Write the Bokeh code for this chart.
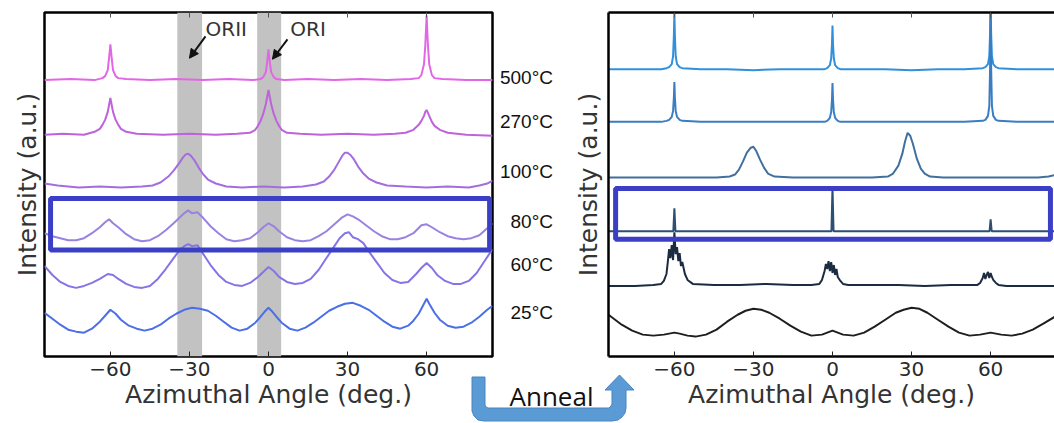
from bokeh.plotting import figure
from bokeh.models import (Range1d, LinearAxis, FixedTicker, BoxAnnotation, Label,
                          Arrow, NormalHead, GridBox, Div)
from bokeh.embed import file_html
from bokeh.resources import INLINE

# ---------------- data ----------------
ticks = [-60, -30, 0, 30, 60]
tick_labels = ["\u221260", "\u221230", "0", "30", "60"]
temps = ["500°C", "270°C", "100°C", "80°C", "60°C", "25°C"]

# Left panel (in situ), intensity in a.u. incl. stacking offset
T500_x = [-85, -75, -66, -63, -62, -61, -60.5, -60, -59.5, -59, -58, -57, -54, -45, -35, -25, -15, -6, -3, -2,
          -1, -0.5, 0, 0.5, 1, 2, 3, 6, 15, 25, 35, 45, 54, 57, 58, 59, 59.5, 60, 60.5, 61, 62, 63, 66, 75, 85]
T500_y = [278, 279, 278, 280, 282, 288, 300, 314, 300, 288, 282, 280, 279, 278, 279, 278, 279, 278, 279, 281,
          286, 296, 309, 296, 286, 281, 279, 278, 279, 278, 279, 278, 279, 280, 283, 294, 313, 343, 313, 294,
          283, 280, 279, 278, 278]

T270_x = [-85, -78, -70, -66, -64, -63, -62, -61, -60.5, -60, -59.5, -59, -58, -57, -56, -54, -50, -40, -30, -20,
          -12, -7, -5, -4, -3, -2, -1, -0.5, 0, 0.5, 1, 2, 3, 4, 5, 7, 12, 20, 30, 40,
          48, 52, 55, 57, 58, 59, 59.5, 60, 61, 62, 63, 65, 68, 75, 85]
T270_y = [223, 224, 223, 226, 229, 233, 238, 246, 253, 260, 253, 246, 238, 233, 229, 226, 224, 223, 224, 223,
          224, 225, 228, 232, 237, 244, 254, 261, 268, 261, 254, 244, 237, 232, 228, 225, 224, 223, 224, 223,
          224, 225, 228, 233, 237, 242, 246, 248, 242, 236, 232, 228, 225, 223, 222]

T100_x = [-85, -80, -72, -64, -56, -48, -44, -41, -38, -36, -34, -32.5, -31.5, -30.5, -29.5, -28, -26.5, -25, -23, -20,
          -16, -10, -2, 6, 13, 18, 21, 23, 25, 26.5, 28, 29, 30, 31, 32.5, 34, 36, 38, 41, 45,
          52, 60, 68, 76, 80, 83, 85]
T100_y = [174, 172, 170, 171, 170, 171, 172, 175, 181, 187, 194, 200, 203, 204, 202, 197, 190, 184, 178, 174,
          171, 170, 171, 170, 171, 173, 176, 181, 188, 195, 202, 205, 205, 203, 198, 191, 184, 179, 175, 172,
          171, 170, 171, 170, 172, 174, 177]

T80_x = [-85, -82, -79, -76, -73, -70, -67, -64, -62, -60.5, -59, -57, -54, -51, -48, -45, -42, -39, -36, -34,
         -32, -30.5, -29, -27, -25, -22, -19, -16, -13, -10, -7, -4, -2, 0, 2, 4, 7, 10, 13, 16,
         19, 22, 25, 28, 30, 32, 34, 37, 40, 43, 46, 49, 52, 55, 58, 60, 62, 65, 68, 71, 74, 77, 80, 83, 85]
T80_y = [124, 121, 119, 117, 117, 119, 124, 130, 135, 138, 134, 130, 123, 118, 116, 117, 121, 127, 134, 139,
         144, 147, 144, 145, 140, 131, 124, 118, 116, 117, 119, 125, 130, 134, 131, 126, 120, 117, 116, 117,
         121, 126, 133, 140, 143, 141, 138, 132, 126, 121, 118, 118, 120, 124, 132, 133, 130, 125, 121, 119,
         118, 119, 122, 129, 134]

T60_x = [-85, -82, -79, -76, -73, -70, -67, -64, -61, -59, -57, -54, -51, -48, -45, -42, -39, -36, -34, -32,
         -30.5, -29, -27, -25, -22, -19, -16, -13, -10, -7, -4, -2, 0, 2, 4, 7, 10, 13, 16, 19,
         22, 25, 27, 29, 30.5, 32, 34, 36, 38, 41, 44, 47, 50, 53, 56, 58, 60, 62, 64, 67,
         70, 73, 76, 79, 82, 85]
T60_y = [91, 82, 75, 71, 69, 71, 74, 78, 83, 82, 78, 73, 70, 69, 71, 78, 88, 99, 106, 111,
         113, 111, 112, 104, 92, 82, 75, 72, 71, 74, 80, 85, 90, 86, 80, 75, 73, 74, 78, 87,
         99, 111, 119, 124, 125, 120, 118, 114, 106, 95, 84, 77, 74, 75, 83, 89, 94, 89, 82, 76,
         73, 73, 76, 84, 96, 108]

T25_x = [-85, -82, -79, -76, -73, -70, -67, -64, -62, -60, -58, -56, -53, -50, -47, -44, -41, -38, -35, -32,
         -29, -26, -23, -20, -17, -14, -11, -8, -5, -3, -1.5, 0, 1.5, 3, 5, 8, 11, 14, 17, 20,
         23, 26, 29, 32, 35, 38, 41, 44, 47, 50, 53, 55, 57, 59, 60, 61, 63, 65, 68, 71,
         74, 77, 80, 83, 85]
T25_y = [44, 38, 32, 27, 25, 24, 28, 35, 41, 47, 43, 37, 31, 28, 26, 28, 32, 38, 43, 47,
         49, 48, 46, 41, 35, 29, 26, 28, 34, 40, 45, 49, 45, 40, 34, 28, 26, 29, 34, 40,
         46, 50, 53, 54, 51, 47, 41, 35, 30, 28, 31, 36, 43, 53, 58, 53, 44, 37, 31, 29,
         30, 34, 40, 47, 51]

# Right panel (after anneal)
R12_x = [-85, -75, -65, -63, -62, -61, -60.5, -60.2, -60, -59.8, -59.5, -59, -58, -57, -50, -40, -30, -20, -10, -3,
         -2, -1, -0.5, -0.2, 0, 0.2, 0.5, 1, 2, 3, 10, 20, 30, 40, 50, 57, 58, 59, 59.5, 59.8,
         60, 60.2, 60.5, 61, 62, 63, 70, 80, 85]
R1_y = [289, 289, 289, 290, 291, 294, 302, 322, 346, 322, 302, 294, 291, 290, 289, 289, 288, 289, 289, 289,
        290, 293, 300, 314, 333, 314, 300, 293, 290, 289, 289, 289, 288, 289, 289, 290, 291, 294, 302, 325,
        360, 325, 302, 294, 291, 290, 289, 289, 289]
R2_y = [236, 236, 236, 237, 238, 241, 247, 260, 276, 260, 247, 241, 238, 237, 236, 236, 236, 236, 236, 236,
        237, 240, 246, 258, 275, 258, 246, 240, 237, 236, 236, 236, 236, 236, 236, 237, 238, 242, 252, 290,
        350, 290, 252, 242, 238, 237, 236, 236, 236]

R3_x = [-85, -70, -55, -44, -39, -37, -35.5, -34, -32.5, -31, -30, -29, -27.5, -26, -24.5, -22, -15, -5, 5, 15,
        21, 23, 25, 26.5, 27.5, 28.5, 29.5, 30.5, 32, 33.5, 35, 37, 42, 55, 70, 78, 82, 85]
R3_y = [180, 180, 180, 180, 181, 183, 188, 196, 205, 210, 211, 207, 198, 190, 184, 181, 180, 180, 180, 180,
        181, 184, 192, 204, 216, 225, 222, 214, 199, 189, 184, 181, 180, 180, 180, 180, 181, 183]

R4_x = [-85, -70, -60.4, -60, -59.6, -45, -30, -15, -0.4, 0, 0.4, 15, 30, 45, 59.6, 60, 60.4, 70, 85]
R4_y = [126, 126, 126, 149, 126, 126, 126, 126, 126, 170, 126, 126, 126, 126, 126, 138, 126, 126, 126]

R5_x = [-85, -75, -68, -65, -64, -63, -62.5, -62, -61.5, -61, -60.5, -60, -59.5, -59, -58.5, -58, -57.5, -57, -56, -55,
        -53, -45, -35, -25, -15, -8, -5, -4, -3, -2.5, -2, -1.5, -1, -0.5, 0, 0.5, 1, 1.5, 2, 3,
        4, 6, 15, 25, 35, 45, 52, 55, 56, 57, 57.5, 58, 58.5, 59, 59.5, 60, 60.5, 61, 62, 63,
        66, 75, 85]
R5_y = [71, 71, 72, 73, 76, 83, 95, 108, 99, 112, 97, 125, 103, 110, 96, 104, 91, 95, 83, 77,
        73, 72, 72, 73, 72, 72, 73, 77, 86, 93, 88, 96, 86, 95, 84, 92, 82, 88, 80, 76,
        73, 72, 72, 72, 71, 72, 72, 72, 74, 79, 84, 78, 82, 85, 79, 84, 80, 77, 74, 72,
        71, 71, 71]

R6_x = [-85, -80, -76, -72, -68, -64, -62, -60, -58, -55, -52, -48, -44, -40, -36, -33, -30, -27, -24, -20,
        -16, -12, -8, -4, -2, 0, 2, 4, 8, 12, 16, 20, 24, 27, 30, 33, 36, 40, 44, 48,
        52, 56, 58, 60, 62, 64, 68, 72, 76, 80, 85]
R6_y = [42, 32, 26, 22, 21, 22, 23, 24, 23, 21, 20, 22, 27, 35, 42, 46, 48, 47, 44, 38,
        31, 25, 21, 22, 24, 26, 24, 22, 21, 24, 30, 37, 44, 47, 49, 48, 44, 37, 30, 24,
        21, 22, 23, 24, 23, 22, 21, 23, 27, 33, 41]

# ---------------- styling / layout ----------------
LEFT_COLORS = ["#e267e6", "#bf62dc", "#a46ddf", "#9a82e0", "#8474e6", "#4a6fe6"]
RIGHT_COLORS = ["#3090dc", "#3a7dc2", "#41709e", "#2c4f72", "#1c2c40", "#1e1e1e"]
BOX_BLUE = "#3b3fc6"
FONT = "DejaVu Sans"
KX = 448 / 170.0  # px per degree


def make_fig(width, mbl, mbr, mbt, mbb, x_end):
    p = figure(width=width, height=423, x_range=Range1d(-85, x_end), y_range=Range1d(0, 346),
               output_backend="svg", toolbar_location=None, title=None,
               x_axis_location=None, y_axis_location=None,
               min_border_left=mbl, min_border_right=mbr, min_border_top=mbt, min_border_bottom=mbb)
    p.grid.visible = False
    p.background_fill_color = "white"
    p.border_fill_color = "white"
    p.margin = 0
    p.align = "start"
    return p


def add_axes(p, border_lines, ylabel_standoff):
    lc = "black" if border_lines else None
    below = LinearAxis(ticker=FixedTicker(ticks=ticks),
                       major_label_overrides=dict(zip(ticks, tick_labels)),
                       axis_label="Azimuthal Angle (deg.)",
                       axis_label_text_font=FONT, axis_label_text_font_size="25px",
                       axis_label_text_font_style="normal", axis_label_text_color="#333333",
                       axis_label_standoff=1,
                       major_label_text_font=FONT, major_label_text_font_size="20px",
                       major_label_text_color="#2a2a2a", major_label_standoff=5,
                       major_tick_in=5, major_tick_out=0, major_tick_line_color="#222222",
                       minor_tick_line_color=None, axis_line_color=lc, axis_line_width=2.5)
    above = LinearAxis(ticker=FixedTicker(ticks=ticks),
                       major_label_text_font_size="2px", major_label_text_color=None,
                       major_label_standoff=0,
                       major_tick_in=5, major_tick_out=0, major_tick_line_color="#555555",
                       minor_tick_line_color=None, axis_line_color=lc, axis_line_width=2.5)
    left = LinearAxis(ticker=FixedTicker(ticks=[]), axis_label="Intensity (a.u.)",
                      axis_label_text_font=FONT, axis_label_text_font_size="25px",
                      axis_label_text_font_style="normal", axis_label_text_color="#333333",
                      axis_label_standoff=ylabel_standoff,
                      major_tick_in=0, major_tick_out=0, minor_tick_line_color=None,
                      major_label_text_font_size="2px", major_label_text_color=None,
                      major_label_standoff=0,
                      axis_line_color=lc, axis_line_width=2.5)
    p.add_layout(below, "below")
    p.add_layout(above, "above")
    p.add_layout(left, "left")


# Left figure: page x 0..560, frame 44..492, frame y 10..356
p1 = make_fig(560, 44, 68, 10, 67, 85)
add_axes(p1, False, 3)
p1.outline_line_color = "black"
p1.outline_line_width = 2.5
p1.outline_line_alpha = 1

for lo, hi in [(-34.6, -25.2), (-4.3, 4.8)]:
    p1.add_layout(BoxAnnotation(left=lo, right=hi, fill_color="#c2c2c2", fill_alpha=1,
                                line_color=None, level="underlay"))

for xs, ys, c in zip([T500_x, T270_x, T100_x, T80_x, T60_x, T25_x],
                     [T500_y, T270_y, T100_y, T80_y, T60_y, T25_y], LEFT_COLORS):
    p1.line(xs, ys, line_color=c, line_width=2)

p1.add_layout(BoxAnnotation(left=-82.7, right=83.9, bottom=107, top=159, fill_color=None,
                            fill_alpha=0, line_color=BOX_BLUE, line_alpha=1, line_width=5,
                            level="overlay"))

p1.add_layout(Label(x=-23.9, y=329, text="ORII", text_baseline="middle", text_font=FONT,
                    text_font_size="20px", text_color="#333333"))
p1.add_layout(Label(x=8.3, y=329, text="ORI", text_baseline="middle", text_font=FONT,
                    text_font_size="20px", text_color="#333333"))
p1.add_layout(Arrow(end=NormalHead(size=9, fill_color="#111111", line_color="#111111"),
                    x_start=-23.9, y_start=322, x_end=-30.0, y_end=300,
                    line_width=2, line_color="#111111"))
p1.add_layout(Arrow(end=NormalHead(size=9, fill_color="#111111", line_color="#111111"),
                    x_start=7.2, y_start=319, x_end=1.5, y_end=299,
                    line_width=2, line_color="#111111"))

# Right figure: page x 560..1054, frame 608..1054, frame y 12..358
p2 = make_fig(494, 48, 0, 12, 65, -85 + 446 / KX)
add_axes(p2, True, 6)
p2.outline_line_color = None

for xs, ys, c in zip([R12_x, R12_x, R3_x, R4_x, R5_x, R6_x],
                     [R1_y, R2_y, R3_y, R4_y, R5_y, R6_y], RIGHT_COLORS):
    p2.line(xs, ys, line_color=c, line_width=2)

p2.add_layout(BoxAnnotation(left=-82.3, right=82.7, bottom=118, top=169, fill_color=None,
                            fill_alpha=0, line_color=BOX_BLUE, line_alpha=1, line_width=5,
                            level="overlay"))

# Transparent HTML overlay (page pixels) for the temperature labels and the "Anneal" arrow
TEMP_Y = [78, 122, 172, 222, 265, 313]
ARROW_PAGE = [(472, 377), (472, 411), (474, 416), (478, 420), (484, 421), (612, 421), (618, 420),
              (622, 417), (625, 413), (626, 408), (626, 390), (634, 390), (619.5, 375), (605, 390),
              (612, 390), (612, 404), (611, 406), (609, 408), (488, 408), (486, 407), (485, 405),
              (485, 377)]
pts = " ".join(f"{a},{b}" for a, b in ARROW_PAGE)
parts = ['<div style="position:relative;width:1054px;height:423px;pointer-events:none;margin:0;padding:0;">',
         f'<svg width="1054" height="423" style="position:absolute;left:0;top:0;">'
         f'<polygon points="{pts}" fill="#5b9bd5" stroke="#4a84bd" stroke-width="1"/></svg>']
for t, yy in zip(temps, TEMP_Y):
    parts.append(f'<div style="position:absolute;left:{553 - 120}px;top:{yy - 11}px;width:120px;'
                 f'text-align:right;font-family:\'Liberation Sans\';font-size:19px;line-height:22px;'
                 f'color:#111111;white-space:nowrap;">{t}</div>')
parts.append('<div style="position:absolute;left:471px;top:381px;width:161px;text-align:center;'
             'font-family:\'Open Sans\';font-size:26px;line-height:30px;color:#111111;'
             'white-space:nowrap;">Anneal</div>')
parts.append('</div>')
overlay = Div(text="".join(parts), width=1054, height=423, margin=0, align="start")

layout = GridBox(children=[(p1, 0, 0), (p2, 0, 1), (overlay, 0, 0, 1, 2)], margin=0)
open("out.html", "w").write(file_html(layout, INLINE))
